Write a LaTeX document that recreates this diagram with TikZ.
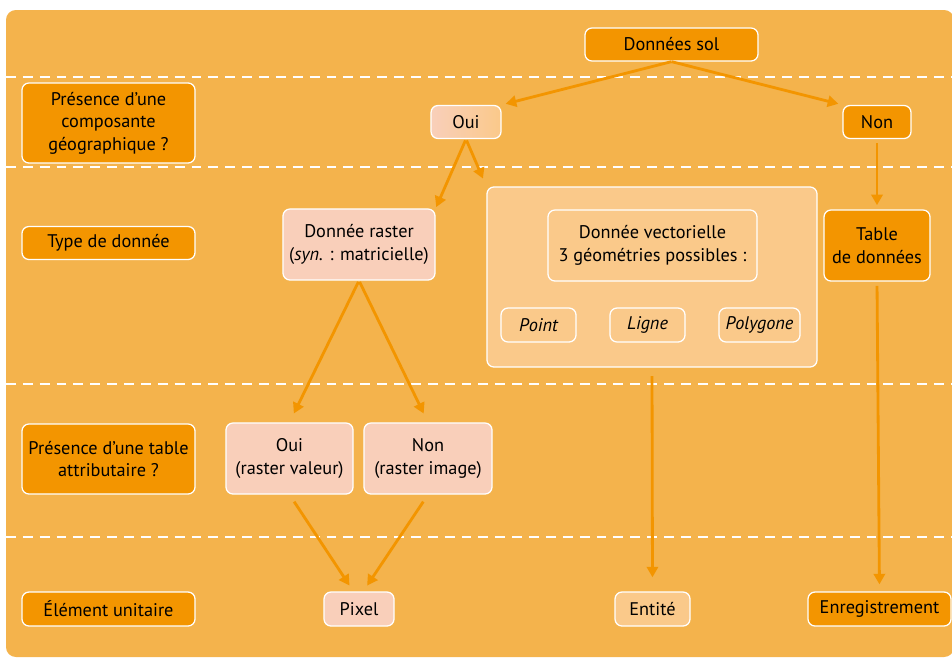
\documentclass[tikz,border=0pt]{standalone}
\usepackage{fontspec}
\setmainfont{PT Sans}
\usetikzlibrary{arrows.meta}
\definecolor{bgorange}{HTML}{F4B34C}
\definecolor{darkorange}{HTML}{F39500}
\definecolor{pinkbox}{HTML}{F9CFBA}
\definecolor{paleorange}{HTML}{FAC98A}
\tikzset{
  box/.style={draw=white, line width=0.9pt, rounded corners=5pt, align=center,
    inner sep=0pt, font=\fontsize{13}{16}\selectfont},
  dark/.style={box, fill=darkorange},
  pink/.style={box, fill=pinkbox},
  pale/.style={box, fill=paleorange},
  arr/.style={draw=darkorange, line width=2pt, -{Triangle[length=7.5pt,width=8pt]}},
  sep/.style={draw=white, line width=0.9pt, dash pattern=on 7pt off 5pt},
}
\begin{document}
\begin{tikzpicture}[x=0.025cm, y=-0.025cm]
      % FRAME
      \useasboundingbox (0,0) rectangle (952,658);
      \clip (0,0) rectangle (952,658);
      \fill[bgorange, rounded corners=7pt] (6,10) rectangle (954,657);
      \foreach \y in {77,167,384,537} \draw[sep] (6,\y) -- (952,\y);
      % LEFT COLUMN
      \node[dark, minimum width=4.325cm, minimum height=2cm] (qgeo) at (108.5,123) {Présence d’une\\composante\\géographique ?};
      \node[dark, minimum width=4.325cm, minimum height=0.825cm] (qtype) at (108.5,243) {Type de donnée};
      \node[dark, minimum width=4.325cm, minimum height=1.75cm] (qattr) at (108.5,459) {Présence d’une table\\attributaire ?};
      \node[dark, minimum width=4.325cm, minimum height=0.85cm] (qunit) at (108.5,609) {Élément unitaire};
      % TOP PART
      \node[dark, minimum width=4.325cm, minimum height=0.825cm] (sol) at (671.5,44.5) {Données sol};
      \node[box, left color=pinkbox, right color=paleorange, minimum width=1.75cm, minimum height=0.825cm] (ouiA) at (466,122) {Oui};
      \node[dark, minimum width=1.7cm, minimum height=0.825cm] (nonA) at (877,122) {Non};
      % MIDDLE PART
      \node[pink, minimum width=3.8cm, minimum height=1.775cm] (raster) at (359,244.5) {Donnée raster\\(\textit{syn.} : matricielle)};
      \node[pale, minimum width=8.25cm, minimum height=4.5cm] (vec) at (652,277) {};
      \node[pale, minimum width=5.225cm, minimum height=1.775cm] (vecinfo) at (652.5,245.5) {Donnée vectorielle\\3 géométries possibles :};
      \node[pale, minimum width=1.875cm, minimum height=0.85cm] (point) at (538.5,325) {\itshape Point};
      \node[pale, minimum width=1.875cm, minimum height=0.85cm] (ligne) at (647.5,325) {\itshape Ligne};
      \node[pale, minimum width=2.025cm, minimum height=0.85cm] (polygone) at (759.5,325) {\itshape Polygone};
      \node[dark, minimum width=2.65cm, minimum height=1.775cm] (tab) at (877,245.5) {Table\\de données};
      \node[pink, minimum width=3.175cm, minimum height=1.775cm] (ouiR) at (289.5,458.5) {Oui\\(raster valeur)};
      \node[pink, minimum width=3.2cm, minimum height=1.775cm] (nonR) at (428,458.5) {Non\\(raster image)};
      % BOTTOM PART
      \node[pink, minimum width=1.75cm, minimum height=0.85cm] (pixel) at (359,609) {Pixel};
      \node[pale, minimum width=1.875cm, minimum height=0.85cm] (ent) at (652.5,609) {Entité};
      \node[dark, minimum width=3.575cm, minimum height=0.85cm] (enr) at (879.5,609) {Enregistrement};
      % ARROWS
      \draw[arr, shorten >=3pt] (sol.south) -- (ouiA.north east);
      \draw[arr, shorten >=3pt] (sol.south) -- (nonA.north west);
      \draw[arr, shorten <=1pt, shorten >=1pt] (ouiA.south) -- (raster.north east);
      \draw[arr, shorten <=1pt, shorten >=6pt] (ouiA.south) -- (vec.north west);
      \draw[arr, shorten <=3pt, shorten >=3pt] (nonA.south) -- (tab.north);
      \draw[arr, shorten <=3pt, shorten >=5pt] (tab.south) -- (enr.north);
      \draw[arr, shorten <=6pt, shorten >=10pt] (vec.south) -- (ent.north);
      \draw[arr, shorten <=1pt, shorten >=7pt] (raster.south) -- (ouiR.north);
      \draw[arr, shorten <=1pt, shorten >=7pt] (raster.south) -- (nonR.north);
      \draw[arr, shorten <=6pt, shorten >=5pt] (ouiR.south) -- ([xshift=-4pt]pixel.north);
      \draw[arr, shorten <=6pt, shorten >=5pt] (nonR.south) -- ([xshift=3pt]pixel.north);
\end{tikzpicture}
\end{document}
